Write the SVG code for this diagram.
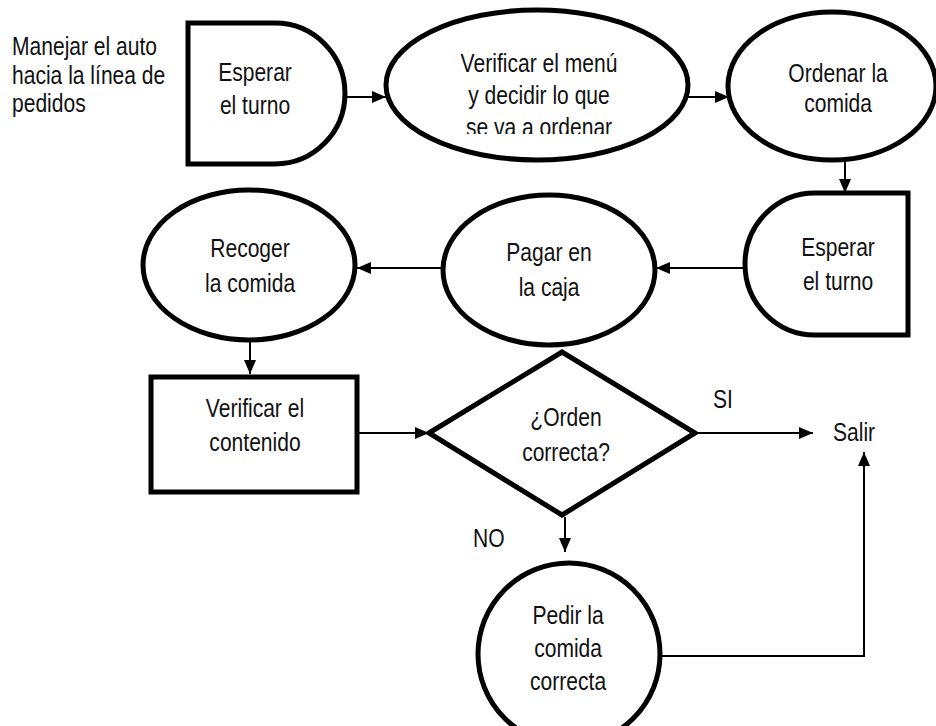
<svg xmlns="http://www.w3.org/2000/svg" width="936" height="726" viewBox="0 0 936 726">
  <defs>
    <style>
      .shape { fill: #ffffff; stroke: #000000; stroke-width: 5; }
      .line { fill: none; stroke: #000000; stroke-width: 2; }
      text { font-family: "Liberation Sans", Arial, sans-serif; font-size: 26px; fill: #111111;
             transform-box: fill-box; transform-origin: 0 50%; transform: scaleX(0.81); }
      .c { text-anchor: middle; transform-origin: 50% 50%; }
    </style>
    <marker id="arrow" viewBox="0 0 14 12" refX="14" refY="6" markerWidth="14" markerHeight="12" markerUnits="userSpaceOnUse" orient="auto">
      <path d="M0,0 L14,6 L0,12 Z" fill="#000000"/>
    </marker>
    <clipPath id="menuClip">
      <rect x="380" y="0" width="320" height="134"/>
    </clipPath>
  </defs>
  <rect width="936" height="726" fill="#ffffff"/>

  <!-- connectors -->
  <g id="connectors">
    <line class="line" x1="345" y1="97" x2="386" y2="97" marker-end="url(#arrow)"/>
    <line class="line" x1="688" y1="97" x2="729" y2="97" marker-end="url(#arrow)"/>
    <line class="line" x1="845" y1="160" x2="845" y2="193" marker-end="url(#arrow)"/>
    <line class="line" x1="745" y1="268" x2="656" y2="268" marker-end="url(#arrow)"/>
    <line class="line" x1="443" y1="268" x2="357" y2="268" marker-end="url(#arrow)"/>
    <line class="line" x1="250" y1="342" x2="250" y2="374" marker-end="url(#arrow)"/>
    <line class="line" x1="357" y1="433" x2="429" y2="433" marker-end="url(#arrow)"/>
    <line class="line" x1="695" y1="433" x2="813" y2="433" marker-end="url(#arrow)"/>
    <line class="line" x1="565" y1="517" x2="565" y2="552" marker-end="url(#arrow)"/>
    <polyline class="line" points="660,656 864,656 864,452" marker-end="url(#arrow)"/>
  </g>

  <!-- start note -->
  <g id="start">
    <text x="12" y="55">Manejar el auto</text>
    <text x="12" y="84">hacia la línea de</text>
    <text x="12" y="112">pedidos</text>
  </g>

  <g id="esperar1">
    <path class="shape" d="M188,23 H275 A70,70.5 0 0 1 275,164 H188 Z"/>
    <text class="c" x="255" y="81">Esperar</text>
    <text class="c" x="255" y="114">el turno</text>
  </g>

  <g id="verificar-menu">
    <ellipse class="shape" cx="537" cy="85" rx="151" ry="75"/>
    <text class="c" x="539" y="72">Verificar el menú</text>
    <text class="c" x="539" y="104">y decidir lo que</text>
    <g clip-path="url(#menuClip)">
      <text class="c" x="539" y="136">se va a ordenar</text>
    </g>
  </g>

  <g id="ordenar">
    <ellipse class="shape" cx="832" cy="86" rx="104" ry="74"/>
    <text class="c" x="838" y="82">Ordenar la</text>
    <text class="c" x="838" y="112">comida</text>
  </g>

  <g id="esperar2">
    <path class="shape" d="M908,193 V335 H815 A70,71 0 0 1 815,193 Z"/>
    <text class="c" x="838" y="256">Esperar</text>
    <text class="c" x="838" y="290">el turno</text>
  </g>

  <g id="pagar">
    <ellipse class="shape" cx="549" cy="270" rx="106" ry="75"/>
    <text class="c" x="549" y="261">Pagar en</text>
    <text class="c" x="549" y="296">la caja</text>
  </g>

  <g id="recoger">
    <ellipse class="shape" cx="249" cy="265" rx="106" ry="75"/>
    <text class="c" x="250" y="257">Recoger</text>
    <text class="c" x="250" y="292">la comida</text>
  </g>

  <g id="verificar-contenido">
    <rect class="shape" x="151" y="377" width="206" height="115"/>
    <text class="c" x="255" y="417">Verificar el</text>
    <text class="c" x="255" y="451">contenido</text>
  </g>

  <g id="decision">
    <polygon class="shape" points="429,433 562,352 695,433 562,515"/>
    <text class="c" x="566" y="426">¿Orden</text>
    <text class="c" x="566" y="461">correcta?</text>
  </g>

  <g id="labels">
    <text x="713" y="408">SI</text>
    <text x="473" y="547">NO</text>
  </g>

  <g id="salir">
    <text x="833" y="441">Salir</text>
  </g>

  <g id="pedir">
    <circle class="shape" cx="569" cy="654" r="91"/>
    <text class="c" x="568" y="624">Pedir la</text>
    <text class="c" x="568" y="657">comida</text>
    <text class="c" x="568" y="690">correcta</text>
  </g>
</svg>
